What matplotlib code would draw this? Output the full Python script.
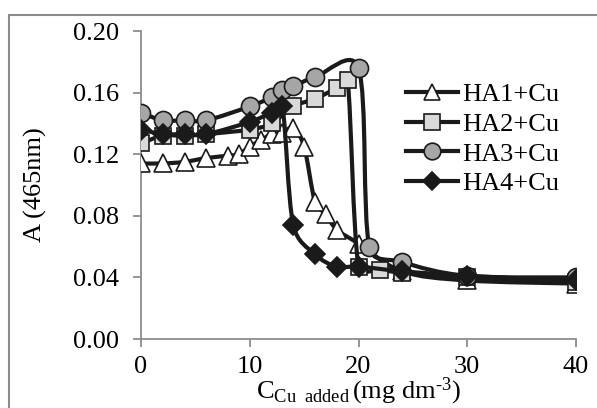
import numpy as np
import matplotlib.pyplot as plt
from matplotlib.path import Path
from matplotlib.patches import PathPatch, Rectangle
from matplotlib.lines import Line2D

plt.rcParams['font.family'] = 'Liberation Serif'
plt.rcParams['mathtext.fontset'] = 'custom'
plt.rcParams['mathtext.rm'] = 'Liberation Serif'
plt.rcParams['mathtext.it'] = 'Liberation Serif:italic'

# data
x_ha1 = [0, 2, 4, 6, 8, 9, 10, 11, 12, 13, 14, 15, 16, 17, 18, 20, 24, 30, 40]
y_ha1 = [0.114, 0.114, 0.115, 0.1175, 0.119, 0.120, 0.125, 0.129, 0.133, 0.134,
         0.137, 0.125, 0.089, 0.081, 0.071, 0.062, 0.044, 0.038, 0.036]
x_ha2 = [0, 2, 4, 6, 10, 12, 14, 16, 18, 19, 20, 22, 24, 30, 40]
y_ha2 = [0.127, 0.132, 0.132, 0.133, 0.136, 0.140, 0.151, 0.156, 0.163, 0.168,
         0.047, 0.045, 0.043, 0.040, 0.037]
x_ha3 = [0, 2, 4, 6, 10, 12, 13, 14, 16, 20, 21, 24, 30, 40]
y_ha3 = [0.147, 0.142, 0.142, 0.142, 0.151, 0.157, 0.162, 0.164, 0.170, 0.176,
         0.060, 0.050, 0.041, 0.040]
x_ha4 = [0, 2, 4, 6, 10, 12, 13, 14, 16, 18, 20, 24, 30, 40]
y_ha4 = [0.136, 0.133, 0.133, 0.133, 0.141, 0.147, 0.151, 0.074, 0.055, 0.047,
         0.047, 0.044, 0.041, 0.038]

labels = ['HA1+Cu', 'HA2+Cu', 'HA3+Cu', 'HA4+Cu']
markers = ['^', 's', 'o', 'D']
fills = ['white', '#d9d9d9', '#a6a6a6', '#1a1a1a']
msizes = [13, 12, 13, 10]
line_col = '#1a1a1a'
FS = 19

# pixels per data unit, used only to shape the smoothing in screen space
SX, SY = 435 / 40, 308 / 0.20


def smooth_path(xs, ys):
    # excel-like smoothed line: bezier segments, catmull-rom tangents,
    # handle length limited to half the segment so big drops don't overshoot
    p = np.column_stack([np.array(xs) * SX, np.array(ys) * SY]).astype(float)
    n = len(p)
    verts = [p[0]]
    codes = [Path.MOVETO]
    for i in range(n - 1):
        p0 = p[i - 1] if i > 0 else p[i]
        p3 = p[i + 2] if i + 2 < n else p[i + 1]
        seg = np.linalg.norm(p[i + 1] - p[i])
        t1 = (p[i + 1] - p0) / 6
        t2 = (p3 - p[i]) / 6
        lim = 0.5 * seg
        if np.linalg.norm(t1) > lim:
            t1 *= lim / np.linalg.norm(t1)
        if np.linalg.norm(t2) > lim:
            t2 *= lim / np.linalg.norm(t2)
        verts += [p[i] + t1, p[i + 1] - t2, p[i + 1]]
        codes += [Path.CURVE4] * 3
    verts = np.array(verts) / [SX, SY]
    return Path(verts, codes)


fig = plt.figure(figsize=(5.97, 4.08), dpi=100)
ax = fig.add_axes([141 / 597, 1 - 339 / 408, 435 / 597, 308 / 408])

series = [(x_ha1, y_ha1), (x_ha2, y_ha2), (x_ha3, y_ha3), (x_ha4, y_ha4)]
for k, (xs, ys) in enumerate(series):
    ax.add_patch(PathPatch(smooth_path(xs, ys), fill=False, edgecolor=line_col,
                           lw=3, capstyle='round', joinstyle='round', zorder=2 + 2 * k))
    ax.plot(xs, ys, ls='none', marker=markers[k], ms=msizes[k], mfc=fills[k],
            mec=line_col, mew=1.2, zorder=3 + 2 * k)

ax.set_xlim(0, 40)
ax.set_ylim(0, 0.20)
ax.set_xticks([0, 10, 20, 30, 40])
ax.set_yticks([0, 0.04, 0.08, 0.12, 0.16, 0.20])
ax.set_yticklabels(['%.2f' % v for v in ax.get_yticks()])
for s in ['top', 'right']:
    ax.spines[s].set_visible(False)
for s in ['left', 'bottom']:
    ax.spines[s].set_color('#8c8c8c')
    ax.spines[s].set_linewidth(1.3)
ax.tick_params(direction='out', length=6, width=1.3, color='#8c8c8c', labelsize=FS)
ax.tick_params(axis='y', pad=10)
ax.tick_params(axis='x', pad=6)
ax.set_ylabel('A (465nm)', fontsize=FS)
ax.yaxis.set_label_coords(-0.215, 0.5)
ax.set_xlabel(r'C$_{\mathrm{Cu\ \ added}}$$\,$(mg dm$^{\text{-3}}$)', fontsize=FS)
ax.xaxis.set_label_coords(0.5, -0.12)

handles = [Line2D([], [], color=line_col, lw=3, marker=markers[k], ms=msizes[k] - 1,
                  mfc=fills[k], mec=line_col, mew=1.2) for k in range(4)]
fig.legend(handles, labels, loc='upper left', bbox_to_anchor=(395 / 597, 1 - 72 / 408),
           frameon=False, fontsize=FS, handlelength=2.0, handletextpad=0.15,
           labelspacing=0.24, borderaxespad=0)

fig.patches.append(Rectangle((9 / 597, -0.1), 1.2, 1.1 - 15 / 408, transform=fig.transFigure,
                             fill=False, edgecolor='#8c8c8c', lw=1.5))

fig.savefig('out.png', dpi=100)
